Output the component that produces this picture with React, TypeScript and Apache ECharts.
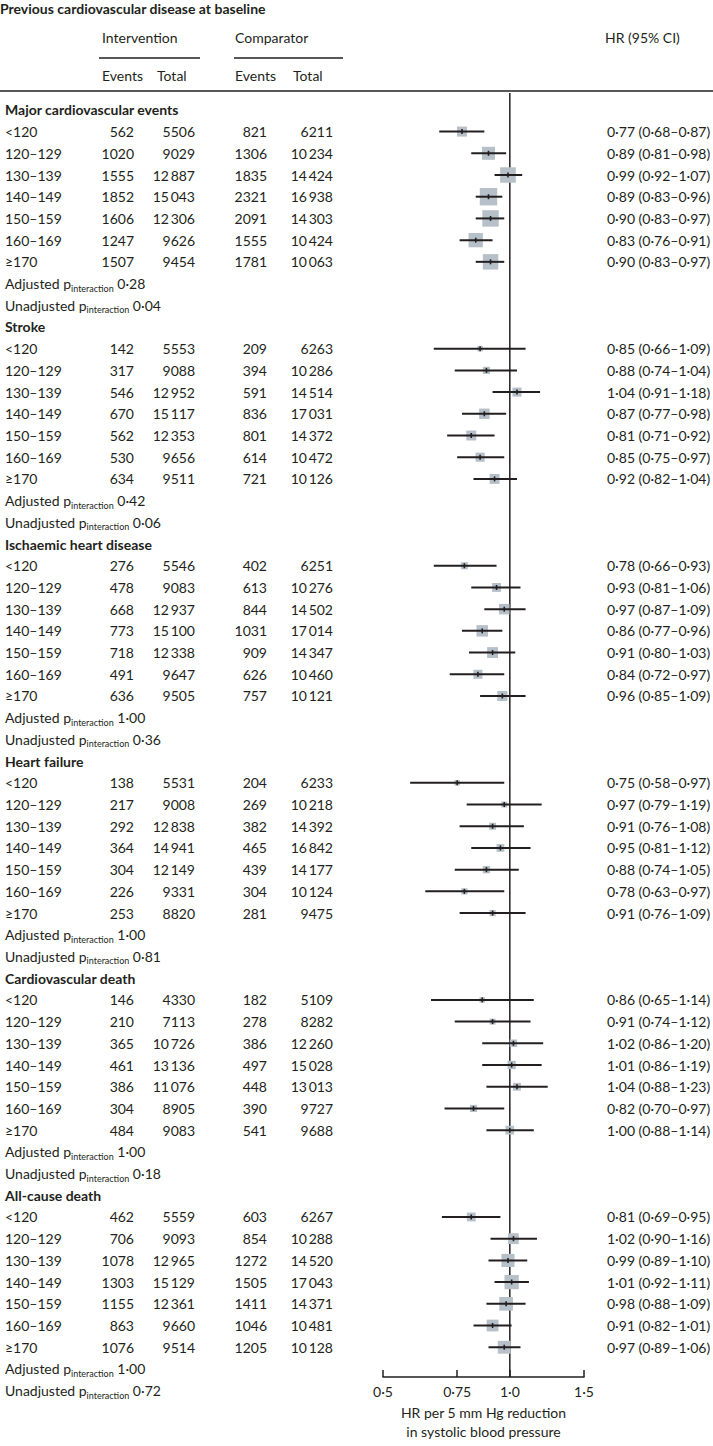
import React, { useEffect, useRef } from 'react';
import * as echarts from 'echarts';

// ---------------- DATA ----------------
const OUTCOMES = [
  'Major cardiovascular events',
  'Stroke',
  'Ischaemic heart disease',
  'Heart failure',
  'Cardiovascular death',
  'All-cause death',
];
const SUBGROUPS = ['<120', '120–129', '130–139', '140–149', '150–159', '160–169', '≥170'];

const INT_EVENTS = [
  [562, 1020, 1555, 1852, 1606, 1247, 1507],
  [142, 317, 546, 670, 562, 530, 634],
  [276, 478, 668, 773, 718, 491, 636],
  [138, 217, 292, 364, 304, 226, 253],
  [146, 210, 365, 461, 386, 304, 484],
  [462, 706, 1078, 1303, 1155, 863, 1076],
];
const INT_TOTAL = [
  [5506, 9029, 12887, 15043, 12306, 9626, 9454],
  [5553, 9088, 12952, 15117, 12353, 9656, 9511],
  [5546, 9083, 12937, 15100, 12338, 9647, 9505],
  [5531, 9008, 12838, 14941, 12149, 9331, 8820],
  [4330, 7113, 10726, 13136, 11076, 8905, 9083],
  [5559, 9093, 12965, 15129, 12361, 9660, 9514],
];
const COMP_EVENTS = [
  [821, 1306, 1835, 2321, 2091, 1555, 1781],
  [209, 394, 591, 836, 801, 614, 721],
  [402, 613, 844, 1031, 909, 626, 757],
  [204, 269, 382, 465, 439, 304, 281],
  [182, 278, 386, 497, 448, 390, 541],
  [603, 854, 1272, 1505, 1411, 1046, 1205],
];
const COMP_TOTAL = [
  [6211, 10234, 14424, 16938, 14303, 10424, 10063],
  [6263, 10286, 14514, 17031, 14372, 10472, 10126],
  [6251, 10276, 14502, 17014, 14347, 10460, 10121],
  [6233, 10218, 14392, 16842, 14177, 10124, 9475],
  [5109, 8282, 12260, 15028, 13013, 9727, 9688],
  [6267, 10288, 14520, 17043, 14371, 10481, 10128],
];
const HR = [
  [0.77, 0.89, 0.99, 0.89, 0.9, 0.83, 0.9],
  [0.85, 0.88, 1.04, 0.87, 0.81, 0.85, 0.92],
  [0.78, 0.93, 0.97, 0.86, 0.91, 0.84, 0.96],
  [0.75, 0.97, 0.91, 0.95, 0.88, 0.78, 0.91],
  [0.86, 0.91, 1.02, 1.01, 1.04, 0.82, 1.0],
  [0.81, 1.02, 0.99, 1.01, 0.98, 0.91, 0.97],
];
const HR_LO = [
  [0.68, 0.81, 0.92, 0.83, 0.83, 0.76, 0.83],
  [0.66, 0.74, 0.91, 0.77, 0.71, 0.75, 0.82],
  [0.66, 0.81, 0.87, 0.77, 0.8, 0.72, 0.85],
  [0.58, 0.79, 0.76, 0.81, 0.74, 0.63, 0.76],
  [0.65, 0.74, 0.86, 0.86, 0.88, 0.7, 0.88],
  [0.69, 0.9, 0.89, 0.92, 0.88, 0.82, 0.89],
];
const HR_HI = [
  [0.87, 0.98, 1.07, 0.96, 0.97, 0.91, 0.97],
  [1.09, 1.04, 1.18, 0.98, 0.92, 0.97, 1.04],
  [0.93, 1.06, 1.09, 0.96, 1.03, 0.97, 1.09],
  [0.97, 1.19, 1.08, 1.12, 1.05, 0.97, 1.09],
  [1.14, 1.12, 1.2, 1.19, 1.23, 0.97, 1.14],
  [0.95, 1.16, 1.1, 1.11, 1.09, 1.01, 1.06],
];
const P_ADJ = [0.28, 0.42, 1.0, 1.0, 1.0, 1.0];
const P_UNADJ = [0.04, 0.06, 0.36, 0.81, 0.18, 0.72];

const X_TICKS = [0.5, 0.75, 1.0, 1.5];
const X_TICK_LABELS = ['0·5', '0·75', '1·0', '1·5'];

const TITLE = 'Previous cardiovascular disease at baseline';
const AXIS_TITLE = 'HR per 5 mm Hg reduction\nin systolic blood pressure';

// ---------------- LAYOUT / STYLE ----------------
const W = 713;
const H = 1446;
const ROW0_Y = 110;
const ROW_H = 21.86;
const GRID_TOP = 93;
const AXIS_Y = 1386;
const PLOT_L = 383;
const PLOT_R = 584;
const COL_LABEL = 5;
const COL_IE = 134;
const COL_IT = 195;
const COL_CE = 267;
const COL_CT = 333;
const COL_HR = 607;
const FAMILY = 'Lato, "Noto Sans", sans-serif';
const FS = 14;
const INK = '#231f20';
const SQUARE = '#b7c0c9';

const Y_MIN = (GRID_TOP - ROW0_Y) / ROW_H;
const Y_MAX = (AXIS_Y - ROW0_Y) / ROW_H;

const dec = (v: number) => v.toFixed(2).replace('.', '·');
const num = (n: number) => {
  const s = String(n);
  return n >= 10000 ? s.slice(0, -3) + '\u2009' + s.slice(-3) : s;
};

type Row = { kind: 'head' | 'sub' | 'adj' | 'unadj'; o: number; j: number };
const ROWS: Row[] = [];
OUTCOMES.forEach((_, o) => {
  ROWS.push({ kind: 'head', o, j: -1 });
  SUBGROUPS.forEach((__, j) => ROWS.push({ kind: 'sub', o, j }));
  ROWS.push({ kind: 'adj', o, j: -1 });
  ROWS.push({ kind: 'unadj', o, j: -1 });
});

const FOREST: number[][] = [];
ROWS.forEach((r, i) => {
  if (r.kind === 'sub') {
    FOREST.push([
      HR[r.o][r.j],
      i,
      HR_LO[r.o][r.j],
      HR_HI[r.o][r.j],
      INT_EVENTS[r.o][r.j] + COMP_EVENTS[r.o][r.j],
    ]);
  }
});

function txt(text: string, x: number, y: number, align: string, bold = false) {
  return {
    type: 'text',
    style: {
      text,
      x,
      y,
      fill: INK,
      font: `${bold ? 'bold ' : ''}${FS}px ${FAMILY}`,
      textAlign: align,
      textVerticalAlign: 'middle',
    },
  };
}

function pText(label: string, p: number, x: number, y: number) {
  return {
    type: 'text',
    style: {
      text: `{a|${label} p}{s|interaction}{a| ${dec(p)}}`,
      x,
      y,
      textAlign: 'left',
      textVerticalAlign: 'middle',
      rich: {
        a: { fontSize: FS, fontFamily: FAMILY, fill: INK, lineHeight: 18 },
        s: { fontSize: 9, fontFamily: FAMILY, fill: INK, verticalAlign: 'bottom' },
      },
    },
  };
}

function renderTable(params: any, api: any) {
  const i = params.dataIndex;
  const r = ROWS[i];
  const y = api.coord([1, i])[1];
  const children: any[] = [];
  if (r.kind === 'head') {
    children.push(txt(OUTCOMES[r.o], COL_LABEL, y, 'left', true));
  } else if (r.kind === 'sub') {
    const { o, j } = r;
    children.push(txt(SUBGROUPS[j], COL_LABEL, y, 'left'));
    children.push(txt(num(INT_EVENTS[o][j]), COL_IE, y, 'right'));
    children.push(txt(num(INT_TOTAL[o][j]), COL_IT, y, 'right'));
    children.push(txt(num(COMP_EVENTS[o][j]), COL_CE, y, 'right'));
    children.push(txt(num(COMP_TOTAL[o][j]), COL_CT, y, 'right'));
    children.push(
      txt(`${dec(HR[o][j])} (${dec(HR_LO[o][j])}–${dec(HR_HI[o][j])})`, COL_HR, y, 'left')
    );
  } else if (r.kind === 'adj') {
    children.push(pText('Adjusted', P_ADJ[r.o], COL_LABEL, y));
  } else {
    children.push(pText('Unadjusted', P_UNADJ[r.o], COL_LABEL, y));
  }
  return { type: 'group', children };
}

function renderForest(_params: any, api: any) {
  const row = api.value(1);
  const c = api.coord([api.value(0), row]);
  const lo = api.coord([api.value(2), row]);
  const hi = api.coord([api.value(3), row]);
  const s = Math.max(5.5, 0.27 * Math.sqrt(api.value(4)));
  return {
    type: 'group',
    children: [
      {
        type: 'rect',
        shape: { x: c[0] - s / 2, y: c[1] - s / 2, width: s, height: s },
        style: { fill: SQUARE },
      },
      {
        type: 'line',
        shape: { x1: lo[0], y1: c[1], x2: hi[0], y2: c[1] },
        style: { stroke: INK, lineWidth: 2 },
      },
      {
        type: 'rect',
        shape: { x: c[0] - 0.8, y: c[1] - 2.5, width: 1.6, height: 5 },
        style: { fill: INK },
      },
    ],
  };
}

function hLine(x1: number, x2: number, y: number, w: number) {
  return {
    type: 'line',
    shape: { x1, y1: y, x2, y2: y },
    style: { stroke: INK, lineWidth: w },
  };
}

function gText(text: string, x: number, y: number, bold = false) {
  return {
    type: 'text',
    x,
    y,
    style: {
      text,
      fill: INK,
      font: `${bold ? 'bold ' : ''}${FS}px ${FAMILY}`,
      textAlign: 'left',
      textVerticalAlign: 'middle',
    },
  };
}

export default function App() {
  const ref = useRef<HTMLDivElement>(null);
  useEffect(() => {
    if (!ref.current) return;
    const chart = echarts.init(ref.current, null, { renderer: 'svg' });
    const option: any = {
      animation: false,
      backgroundColor: '#ffffff',
      grid: { left: PLOT_L, right: W - PLOT_R, top: GRID_TOP, bottom: H - AXIS_Y, containLabel: false },
      xAxis: {
        type: 'log',
        logBase: 10,
        min: 0.5,
        max: 1.5,
        position: 'bottom',
        axisLine: { show: true, onZero: false, lineStyle: { color: INK, width: 1.5 } },
        axisTick: {
          show: true,
          inside: true,
          length: 7,
          customValues: X_TICKS,
          lineStyle: { color: INK, width: 1.5 },
        },
        axisLabel: {
          customValues: X_TICKS,
          margin: 7,
          color: INK,
          fontSize: FS,
          fontFamily: FAMILY,
          formatter: (v: number) => {
            let best = 0;
            X_TICKS.forEach((t, k) => {
              if (Math.abs(t - v) < Math.abs(X_TICKS[best] - v)) best = k;
            });
            return X_TICK_LABELS[best];
          },
        },
        splitLine: { show: false },
        minorTick: { show: false },
        name: AXIS_TITLE,
        nameLocation: 'middle',
        nameGap: 26,
        nameTextStyle: { color: INK, fontSize: FS, fontFamily: FAMILY, lineHeight: 19 },
      },
      yAxis: {
        type: 'value',
        inverse: true,
        min: Y_MIN,
        max: Y_MAX,
        show: false,
        splitLine: { show: false },
      },
      graphic: [
        gText(TITLE, 0, 8, true),
        gText('Intervention', 102, 37),
        gText('Comparator', 235, 37),
        gText('HR (95% CI)', 605, 37),
        hLine(99, 200, 58, 1.4),
        hLine(234, 343, 58, 1.4),
        gText('Events', 102, 75),
        gText('Total', 157, 75),
        gText('Events', 235, 75),
        gText('Total', 293, 75),
        hLine(0, W, 91, 1.5),
      ],
      series: [
        {
          type: 'line',
          data: [
            [1, Y_MIN],
            [1, Y_MAX],
          ],
          symbol: 'none',
          silent: true,
          z: 1,
          lineStyle: { color: INK, width: 1.5 },
        },
        {
          type: 'custom',
          data: FOREST,
          encode: { x: 0, y: 1 },
          renderItem: renderForest,
          silent: true,
          z: 3,
        },
        {
          type: 'custom',
          data: ROWS.map((_, i) => [1, i]),
          encode: { x: 0, y: 1 },
          renderItem: renderTable,
          silent: true,
          z: 4,
        },
      ],
    };
    chart.setOption(option);
    return () => chart.dispose();
  }, []);
  return (
    <div
      ref={ref}
      style={{ position: 'absolute', left: 0, top: 0, width: W, height: H, background: '#fff' }}
    />
  );
}
